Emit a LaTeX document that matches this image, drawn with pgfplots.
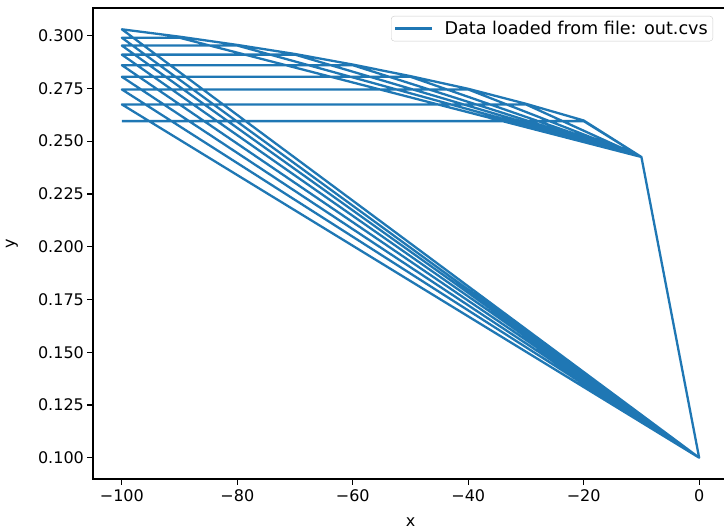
\documentclass[border=0pt]{standalone}
\usepackage{fontspec}
\setmainfont{DejaVu Sans}
\usepackage{pgfplots}
\pgfplotsset{compat=1.18}
\definecolor{mplblue}{HTML}{1F77B4}
\newcommand{\mplfont}{\fontsize{16}{19}\selectfont}

\begin{document}
\begin{tikzpicture}[x=1pt,y=1pt]
\useasboundingbox (0,0) rectangle (724,531);
\clip (0,0) rectangle (724,531);
\begin{axis}[
    at={(93pt,52pt)}, anchor=south west,
    width=635pt, height=471pt, scale only axis,
    xmin=-105, xmax=5, ymin=0.0899, ymax=0.3131,
    xtick={-100,-80,-60,-40,-20,0},
    xticklabels={−100,−80,−60,−40,−20,0},
    ytick={0.1,0.125,0.15,0.175,0.2,0.225,0.25,0.275,0.3},
    yticklabel style={/pgf/number format/.cd, fixed, fixed zerofill, precision=3},
    /pgf/number format/assume math mode=true,
    tick label style={font=\mplfont},
    xticklabel style={yshift=-1pt},
    label style={font=\mplfont},
    xlabel={x}, ylabel={y},
    xlabel style={at={(axis description cs:0.5,-0.0913)}, anchor=center},
    ylabel style={at={(axis description cs:-0.1276,0.5)}, anchor=center},
    tick align=outside, xtick pos=bottom, ytick pos=left,
    major tick length=5.6pt,
    every tick/.style={black, line width=1.2pt},
    axis line style={black, line width=1.2pt},
    legend style={font=\fontsize{17.6}{20}\selectfont, at={(1,1)}, anchor=north east,
        xshift=-15pt, yshift=-8pt, draw=black!20, rounded corners=3pt,
        fill=white, fill opacity=0.8, text opacity=1,
        inner xsep=3pt, inner ysep=3pt,
        /tikz/every odd column/.append style={column sep=9pt}},
    legend cell align={left},
    legend image code/.code={\draw[#1] (0pt,0pt) -- (37pt,0pt);},
]
\addplot[mplblue, line width=2.3pt, line join=round, mark=none] coordinates {
    (-100,0.2595) (-20,0.2595) (-10,0.2425) (0,0.1000)
    (-100,0.2674) (-30,0.2674) (-10,0.2425) (0,0.1000)
    (-100,0.2745) (-40,0.2745) (-10,0.2425) (0,0.1000)
    (-100,0.2805) (-50,0.2805) (-10,0.2425) (0,0.1000)
    (-100,0.2860) (-60,0.2860) (-10,0.2425) (0,0.1000)
    (-100,0.2910) (-70,0.2910) (-10,0.2425) (0,0.1000)
    (-100,0.2953) (-80,0.2953) (-10,0.2425) (0,0.1000)
    (-100,0.2990) (-90,0.2990) (-10,0.2425) (0,0.1000)
    (-100,0.3030) (-90,0.2995) (-80,0.2956) (-70,0.2913) (-60,0.2863)
    (-50,0.2808) (-40,0.2748) (-30,0.2677) (-20,0.2598) (-10,0.2425) (0,0.1000)
};
\addlegendentry{Data loaded from file: out.cvs}
\end{axis}
\end{tikzpicture}
\end{document}
